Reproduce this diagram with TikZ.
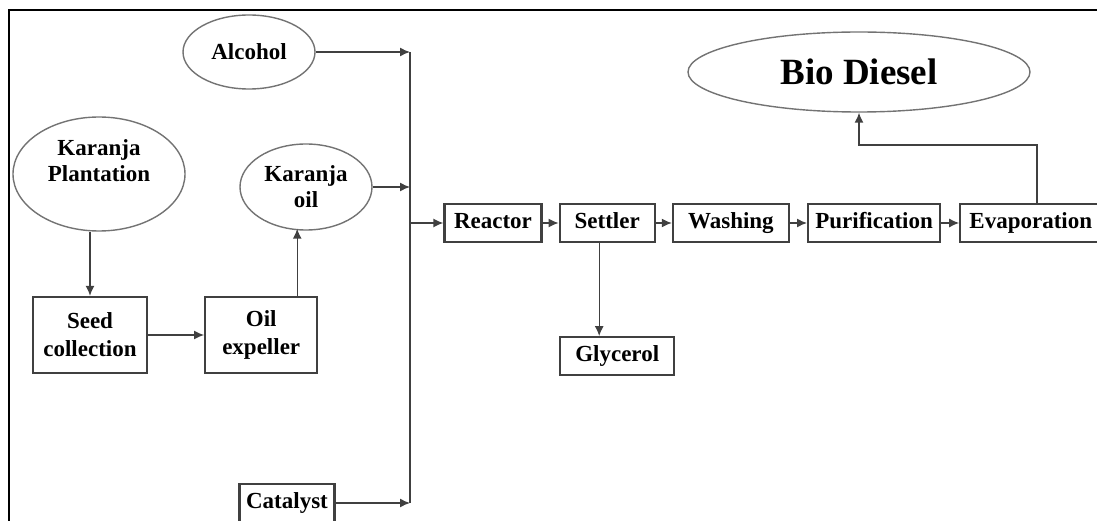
\documentclass[tikz,border=0pt]{standalone}
\usepackage{fontspec}
\setmainfont{Liberation Serif}
\usetikzlibrary{positioning,shapes.geometric,arrows.meta}

\begin{document}
\begin{tikzpicture}[x=1pt,y=-1pt,node distance=16pt,
    box node/.style={draw=black!75,line width=2.2pt,inner sep=2pt,minimum height=38pt,align=center,font=\fontsize{23}{28}\selectfont\bfseries},
    one line/.style={text height=15pt,text depth=4pt},
    oval node/.style={ellipse,draw=black!55,line width=1.4pt,inner sep=0pt,align=center,font=\fontsize{23}{26}\selectfont\bfseries},
    link/.style={draw=black!75,line width=1.4pt},
    flow/.style={link,-{Latex[length=10pt,width=9pt]}}]
    \useasboundingbox (0,0) rectangle (1097,521);
    \draw[line width=2pt] (1097,10) -- (9,10) -- (9,521);

    % inputs
    \node[oval node,minimum width=132pt,minimum height=74pt] (alc) at (249,52) {Alcohol};
    \node[oval node,minimum width=172pt,minimum height=114pt] (plant) at (99,174) {Karanja\\Plantation\\ \mbox{}};
    \node[oval node,minimum width=132pt,minimum height=86pt] (koil) at (306,187) {Karanja\\oil};
    \node[box node,minimum width=114pt,minimum height=76pt] (seed) at (90,335) {Seed\\collection};
    \node[box node,minimum width=112pt,minimum height=76pt] (expel) [right=56pt of seed] {Oil\\expeller};
    \node[box node,one line,minimum width=95pt] (cat) at (287,503) {Catalyst};

    % process chain
    \node[box node,one line,minimum width=97pt] (react) at (493,223) {Reactor};
    \node[box node,one line,minimum width=95pt] (settle) [right=of react] {Settler};
    \node[box node,one line,minimum width=116pt] (wash) [right=of settle] {Washing};
    \node[box node,one line,minimum width=132pt] (purif) [right=17pt of wash] {Purification};
    \node[box node,one line,minimum width=141pt] (evap) [right=18pt of purif] {Evaporation};
    \node[box node,one line,minimum width=114pt] (glyc) [below=93pt of settle, xshift=10pt] {Glycerol};
    \node[oval node,minimum width=342pt,minimum height=80pt,font=\fontsize{37}{40}\selectfont\bfseries] (bio) at (859,72) {Bio Diesel};

    \coordinate (bus) at (410,0);

    \draw[flow] (alc.east) -- (alc.east -| bus);
    \draw[flow] (koil.east) -- (koil.east -| bus);
    \draw[flow] (cat.east) -- (cat.east -| bus);
    \draw[link] (alc.east -| bus) -- (cat.east -| bus);
    \draw[flow] (react.west -| bus) -- (react.west);

    \draw[flow] (seed.north |- plant.south) -- (seed.north);
    \draw[flow] (seed) -- (expel);
    \draw[flow] ([xshift=36pt]expel.north) -- ([xshift=36pt,yshift=2pt]expel.north |- koil.south);

    \draw[flow] (react) -- (settle);
    \draw[flow] (settle) -- (wash);
    \draw[flow] (wash) -- (purif);
    \draw[flow] (purif) -- (evap);
    \draw[flow] ([xshift=-8pt]settle.south) -- ([xshift=-8pt]settle.south |- glyc.north);
    \draw[flow] ([xshift=6pt]evap.north) -- ++(0,-58) -| (bio.south);
\end{tikzpicture}
\end{document}
